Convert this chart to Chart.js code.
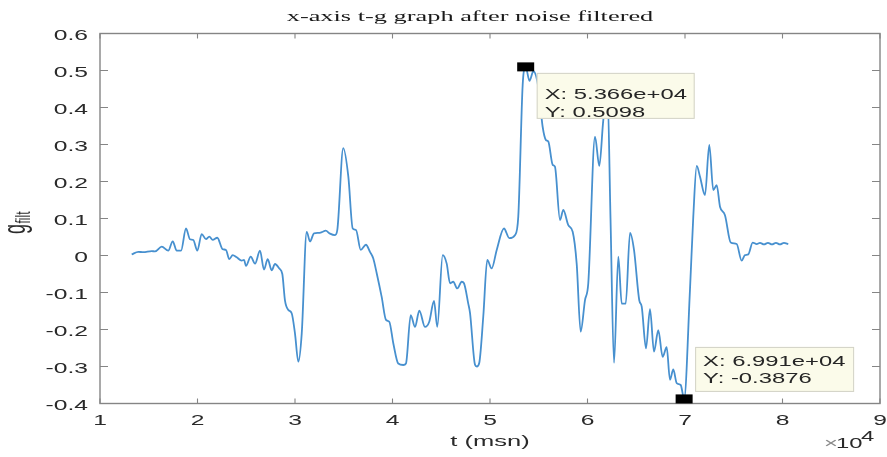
<!DOCTYPE html>
<html><head><meta charset="utf-8">
<script src="https://cdn.jsdelivr.net/npm/chart.js@4.4.1/dist/chart.umd.min.js"></script>
<style>html,body{margin:0;padding:0;background:#fff;overflow:hidden}canvas{display:block}</style>
</head><body>
<canvas id="c" width="887" height="457"></canvas>
<script>
// ---- data (t in msn, g filtered) ----
const tValues = [13250,13930,14440,15300,15640,16330,17000,17460,17870,18310,18820,19230,19570,19980,20430,20870,21210,21560,22030,22580,22920,23260,23610,24020,24530,24770,24970,25460,25900,26410,26820,27200,27610,27950,28390,28700,28970,29310,29660,30000,30340,30690,31200,31540,31950,32390,32740,33150,33590,34100,34340,34950,35470,35920,36260,36740,37280,37690,38030,38380,38890,39330,39670,40080,40590,41110,41380,41870,42310,42750,43330,43770,44260,44590,45150,45560,45900,46230,46640,47100,47330,47770,47950,48460,48650,48900,49310,49720,50170,50690,51430,51980,52560,52900,53350,53660,54050,54450,54950,55400,55740,55980,56430,56660,57180,57520,58030,58480,58890,59300,59740,60080,60770,61210,61620,62050,62360,62720,63160,63510,63920,64360,64770,65310,65560,66000,66410,66820,67260,67710,68120,68460,68800,69150,69560,69910,70510,70850,71200,71540,72050,72490,72900,73250,73590,74100,74690,75300,75810,76150,76490,76940,77350,77690,78100,78510,78920,79330,79740,80150,80590];
const gValues = [0.003,0.010,0.009,0.012,0.011,0.024,0.013,0.038,0.013,0.013,0.073,0.044,0.042,0.013,0.058,0.044,0.051,0.042,0.048,0.017,0.015,-0.010,0.001,-0.005,-0.014,-0.012,-0.028,-0.003,-0.022,0.013,-0.038,-0.010,-0.040,-0.023,-0.035,-0.050,-0.121,-0.147,-0.156,-0.211,-0.287,-0.211,0.064,0.038,0.060,0.061,0.063,0.067,0.059,0.055,0.069,0.290,0.213,0.073,0.069,0.015,0.029,0.010,-0.008,-0.048,-0.112,-0.174,-0.179,-0.237,-0.292,-0.296,-0.292,-0.161,-0.193,-0.149,-0.193,-0.179,-0.123,-0.193,0.001,-0.022,-0.075,-0.071,-0.089,-0.071,-0.075,-0.130,-0.155,-0.295,-0.300,-0.290,-0.165,-0.012,-0.035,0.015,0.073,0.047,0.055,0.105,0.460,0.5098,0.472,0.498,0.456,0.348,0.312,0.308,0.245,0.240,0.096,0.123,0.082,0.064,-0.022,-0.206,-0.121,-0.075,0.321,0.242,0.366,0.440,0.100,-0.290,-0.003,-0.130,-0.130,0.061,0.015,-0.121,-0.138,-0.251,-0.145,-0.260,-0.202,-0.274,-0.248,-0.336,-0.308,-0.345,-0.350,-0.3876,-0.093,0.105,0.242,0.213,0.163,0.299,0.177,0.190,0.132,0.109,0.035,0.031,-0.014,0.001,0.003,0.035,0.031,0.034,0.030,0.034,0.030,0.034,0.030,0.034,0.031];

const xTickValues = [10000,20000,30000,40000,50000,60000,70000,80000,90000];
const xTickLabels = ['1','2','3','4','5','6','7','8','9'];
const yTickValues = [0.6,0.5,0.4,0.3,0.2,0.1,0,-0.1,-0.2,-0.3,-0.4];
const yTickLabels = ['0.6','0.5','0.4','0.3','0.2','0.1','0','-0.1','-0.2','-0.3','-0.4'];

const tipT = [53660, 69910];
const tipG = [0.5098, -0.3876];
const tipLinesX = ['X: 5.366e+04', 'X: 6.991e+04'];
const tipLinesY = ['Y: 0.5098', 'Y: -0.3876'];

const titleText = 'x-axis t-g graph after noise filtered';
const xTitle = 't (msn)';
const yTitleMain = 'g';
const yTitleSub = 'filt';
const xExpBase = '10';
const xExpPow = '4';

// ---- drawing helpers ----
const SX = 1.7; // horizontal text stretch seen in the reference
const SANS = '"Liberation Sans", Arial, sans-serif';
const SERIF = '"Liberation Serif", "Times New Roman", serif';
function sText(ctx, str, x, y, font, color, align) {
  ctx.save();
  ctx.translate(x, y);
  ctx.scale(SX, 1);
  ctx.font = font;
  ctx.fillStyle = color;
  ctx.textAlign = align || 'left';
  ctx.textBaseline = 'alphabetic';
  ctx.fillText(str, 0, 0);
  ctx.restore();
}

const decor = {
  id: 'decor',
  beforeDraw(chart) {
    const ctx = chart.ctx;
    ctx.save(); ctx.fillStyle = '#fff'; ctx.fillRect(0, 0, chart.width, chart.height); ctx.restore();
  },
  afterDatasetsDraw(chart) {
    const ctx = chart.ctx;
    const a = chart.chartArea;
    const xs = chart.scales.x, ys = chart.scales.y;
    const axisCol = '#858585', txtCol = '#2a2a2a';
    ctx.save();
    // box
    ctx.strokeStyle = axisCol; ctx.lineWidth = 1.4;
    ctx.strokeRect(a.left, a.top, a.right - a.left, a.bottom - a.top);
    // ticks (inward)
    ctx.lineWidth = 1.1;
    ctx.beginPath();
    xTickValues.forEach(v => {
      const px = xs.getPixelForValue(v);
      ctx.moveTo(px, a.bottom); ctx.lineTo(px, a.bottom - 5);
      ctx.moveTo(px, a.top); ctx.lineTo(px, a.top + 5);
    });
    yTickValues.forEach(v => {
      const py = ys.getPixelForValue(v);
      ctx.moveTo(a.left, py); ctx.lineTo(a.left + 8, py);
      ctx.moveTo(a.right, py); ctx.lineTo(a.right - 8, py);
    });
    ctx.stroke();
    ctx.restore();

    const tickFont = '14.5px ' + SANS;
    xTickValues.forEach((v, i) => {
      sText(ctx, xTickLabels[i], xs.getPixelForValue(v), a.bottom + 21.5, tickFont, txtCol, 'center');
    });
    yTickValues.forEach((v, i) => {
      sText(ctx, yTickLabels[i], a.left - 12, ys.getPixelForValue(v) + 6, tickFont, txtCol, 'right');
    });

    // axis titles
    const cx = (a.left + a.right) / 2;
    sText(ctx, xTitle, cx, 446, '15px ' + SANS, txtCol, 'center');
    // x exponent
    sText(ctx, '\u00d7', 824, 448, '14px ' + SANS, '#8a8a8a', 'left');
    sText(ctx, xExpBase, 836, 448, '14px ' + SANS, txtCol, 'left');
    sText(ctx, xExpPow, 861, 441, '14px ' + SANS, txtCol, 'left');

    // y title g_filt (rotated)
    ctx.save();
    ctx.translate(25, 234);
    ctx.scale(SX, 1);
    ctx.rotate(-Math.PI / 2);
    ctx.fillStyle = txtCol;
    ctx.textBaseline = 'alphabetic';
    ctx.font = '18px ' + SANS;
    ctx.fillText(yTitleMain, 0, 0);
    const gw = ctx.measureText(yTitleMain).width;
    ctx.font = '12px ' + SANS;
    ctx.fillText(yTitleSub, gw + 0.5, 3);
    ctx.restore();

    // title
    sText(ctx, titleText, 470, 21, '15.5px ' + SERIF, '#1a1a1a', 'center');

    // data tips
    const boxes = [{dx: 11, dy: 6, w: 158, h: 46, l1: 26, l2: 44.5}, {dx: 11, dy: -52, w: 159, h: 45, l1: 19, l2: 36}];
    tipT.forEach((t, i) => {
      const px = xs.getPixelForValue(t), py = ys.getPixelForValue(tipG[i]);
      const b = boxes[i];
      const bx = px + b.dx, by = py + b.dy;
      ctx.save();
      ctx.fillStyle = '#fbfbea';
      ctx.strokeStyle = '#d2d2c6';
      ctx.lineWidth = 1;
      ctx.fillRect(bx, by, b.w, b.h);
      ctx.strokeRect(bx + 0.5, by + 0.5, b.w - 1, b.h - 1);
      ctx.fillStyle = '#000';
      ctx.fillRect(px - 8.5, py - 4.5, 17, 9);
      ctx.restore();
      sText(ctx, tipLinesX[i], bx + 8, by + b.l1, '14px ' + SANS, '#262626', 'left');
      sText(ctx, tipLinesY[i], bx + 8, by + b.l2, '14px ' + SANS, '#262626', 'left');
    });
  }
};

new Chart(document.getElementById('c'), {
  type: 'line',
  data: {
    datasets: [{
      data: tValues.map((t, i) => ({x: t, y: gValues[i]})),
      borderColor: '#4790cf',
      borderWidth: 1.8,
      pointRadius: 0,
      fill: false,
      cubicInterpolationMode: 'monotone'
    }]
  },
  options: {
    responsive: false,
    animation: false,
    events: [],
    layout: {padding: {top: 33.5, right: 7, left: 0, bottom: 0}},
    plugins: {legend: {display: false}, tooltip: {enabled: false}, title: {display: false}},
    scales: {
      x: {
        type: 'linear', min: 10000, max: 90000,
        ticks: {display: false, stepSize: 10000},
        grid: {display: false}, border: {display: false},
        afterFit(s) { s.height = 53.5; }
      },
      y: {
        type: 'linear', min: -0.4, max: 0.6,
        ticks: {display: false, stepSize: 0.1},
        grid: {display: false}, border: {display: false},
        afterFit(s) { s.width = 100; }
      }
    }
  },
  plugins: [decor]
});
</script>
</body></html>
